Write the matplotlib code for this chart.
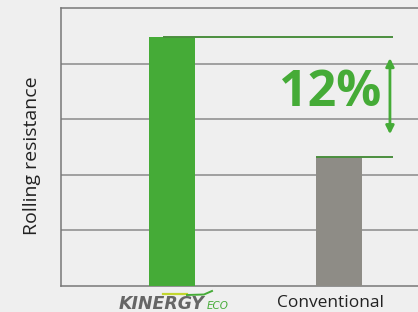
import matplotlib.pyplot as plt
from matplotlib.lines import Line2D

# data (axis units, gridline = 1)
tyres = ['Kinergy Eco', 'Conventional']
resistance = [4.48, 2.32]
gap_label = '12%'

bg = '#efefef'
green = '#45ab37'
grey = '#8e8c86'

fig = plt.figure(figsize=(4.18, 3.12), dpi=100, facecolor=bg)
ax = fig.add_axes([61 / 418, 1 - 286 / 312, 1 - 61 / 418, (286 - 8) / 312])
ax.set_facecolor(bg)

x = [0, 1]
ax.bar(x, resistance, width=0.275, color=[green, grey], zorder=3)
ax.set_xlim(-0.665, 1.473)
ax.set_ylim(0, 5)

# gridlines
ax.set_yticks([1, 2, 3, 4])
ax.yaxis.grid(True, color='#8a8a8a', linewidth=1.1)
ax.tick_params(left=False, bottom=False, labelleft=False, labelbottom=False)
for s in ['left', 'top', 'bottom']:
    ax.spines[s].set_color('#777777')
    ax.spines[s].set_linewidth(1.1)
ax.spines['right'].set_visible(False)

# reference lines at bar heights
ax.hlines(resistance[0], -0.054, 1.323, color='#4b8f3f', linewidth=1.4, zorder=4)
ax.hlines(resistance[1], 0.862, 1.323, color='#4b8f3f', linewidth=1.4, zorder=4)

# double arrow + label
ax.annotate('', xy=(1.305, 4.1), xytext=(1.305, 2.73),
            arrowprops=dict(arrowstyle='<|-|>', color=green, lw=2,
                            mutation_scale=12, shrinkA=0, shrinkB=0))
ax.text(0.946, 3.47, gap_label, color=green, fontsize=36, fontweight='bold',
        family='Open Sans', ha='center', va='center')

ax.set_ylabel('Rolling resistance', fontsize=14, family='Open Sans',
              color='#222222')
ax.yaxis.set_label_coords(-0.057, 0.468)

# x labels
fig.text(330 / 418, 1 - 303 / 312, 'Conventional', fontsize=12.5,
         family='Open Sans', color='#222222', ha='center', va='center')
fig.text(119 / 418, 1 - 309 / 312, 'KINERGY', fontsize=12.5, family='DejaVu Sans',
         fontweight='bold', style='italic', color='#666666', ha='left', va='baseline')
fig.text(207 / 418, 1 - 309 / 312, 'ECO', fontsize=7.5, family='DejaVu Sans',
         style='italic', color=green, ha='left', va='baseline')
fig.add_artist(Line2D([163 / 418, 187 / 418], [1 - 294 / 312, 1 - 294 / 312],
                      color='#c2d62e', lw=1.6))
fig.add_artist(Line2D([187 / 418, 204 / 418, 212 / 418],
                      [1 - 295 / 312, 1 - 294.5 / 312, 1 - 291 / 312],
                      color=green, lw=1.4))

fig.savefig('out.png', dpi=100, facecolor=bg)
